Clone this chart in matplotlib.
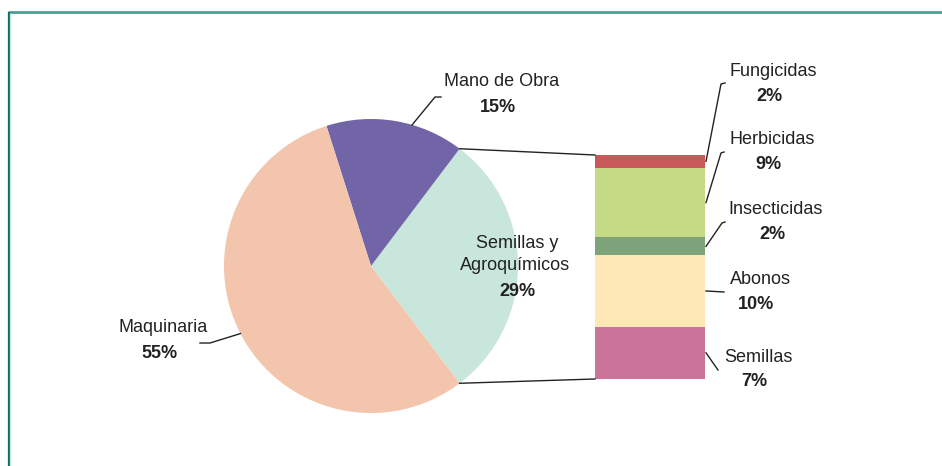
import matplotlib
matplotlib.use("Agg")
import matplotlib.pyplot as plt
import numpy as np

plt.rcParams['font.family'] = ['Liberation Sans', 'DejaVu Sans']

# pie data (percent of total cost)
pie_labels = ["Semillas y\nAgroquímicos", "Mano de Obra", "Maquinaria"]
pie_values = [29.4, 15.2, 55.4]
pie_colors = ["#C9E6DC", "#7165A8", "#F4C5AD"]

# breakdown of "Semillas y Agroquímicos" (top to bottom)
bar_labels = ["Fungicidas", "Herbicidas", "Insecticidas", "Abonos", "Semillas"]
bar_values = [1.7, 9.3, 2.4, 9.5, 7.0]
bar_colors = ["#C8585A", "#C6DA86", "#7EA37A", "#FDE8B6", "#CB7399"]

W, H = 942, 466
def Y(y):  # picture row -> axes y
    return H - y

fig = plt.figure(figsize=(W / 100, H / 100), dpi=100)
ax = fig.add_axes([0, 0, 1, 1])

txt = "#222222"
fs = 13

# ---- pie ----
cx, cy, r = 371, Y(266), 147
start = -360 * pie_values[0] / 100 / 2
wedges, _ = ax.pie(pie_values, colors=pie_colors, startangle=start,
                   counterclock=True, center=(cx, cy), radius=r, frame=True,
                   wedgeprops=dict(linewidth=0))

# ---- stacked bar ----
bar_x, bar_w = 650, 110
bar_bottom, bar_top = Y(379), Y(155)
scale = (bar_top - bar_bottom) / sum(bar_values)
heights = np.array(bar_values[::-1]) * scale
bottoms = bar_bottom + np.concatenate([[0], np.cumsum(heights)[:-1]])
ax.bar(bar_x, heights, bottom=bottoms, width=bar_w,
       color=bar_colors[::-1], linewidth=0)

# connector lines pie -> bar
a1 = np.deg2rad(start)
a2 = np.deg2rad(start + 360 * pie_values[0] / 100)
left = bar_x - bar_w / 2
ax.plot([cx + r * np.cos(a2), left], [cy + r * np.sin(a2), bar_top], color=txt, lw=1)
ax.plot([cx + r * np.cos(a1), left], [cy + r * np.sin(a1), bar_bottom], color=txt, lw=1)

def pct(v):
    return f"{int(np.floor(v + 0.5))}%"

# pie labels
ax.text(517, Y(243), "Semillas y", ha='center', va='center', fontsize=fs, color=txt)
ax.text(515, Y(266), "Agroquímicos", ha='center', va='center', fontsize=fs, color=txt)
ax.text(517, Y(292), pct(pie_values[0]), ha='center', va='center', fontsize=fs,
        color=txt, fontweight='bold')

ax.text(502, Y(82), pie_labels[1], ha='center', va='center', fontsize=fs, color=txt)
ax.text(498, Y(108), pct(pie_values[1]), ha='center', va='center', fontsize=fs,
        color=txt, fontweight='bold')
ax.plot([412, 435, 441], [Y(125), Y(97), Y(97)], color=txt, lw=1)

ax.text(163, Y(328), pie_labels[2], ha='center', va='center', fontsize=fs, color=txt)
ax.text(160, Y(353), pct(pie_values[2]), ha='center', va='center', fontsize=fs,
        color=txt, fontweight='bold')
mid = np.deg2rad(start + 360 * (pie_values[0] + pie_values[1] + pie_values[2] / 2) / 100)
ax.plot([cx + r * np.cos(mid), 210, 200], [cy + r * np.sin(mid), Y(343), Y(343)],
        color=txt, lw=1)

# bar labels
label_pos = [(773, 72), (772, 140), (776, 210), (760, 280), (758, 357)]
leader_end = [[(721, 84), (725, 83)], [(721, 153), (724, 152)],
              [(722, 223), (725, 222)], [(724, 292)], [(718, 370)]]
mids = (bottoms + heights / 2)[::-1]
right = bar_x + bar_w / 2
for name, v, (lx, ly), pts, my in zip(bar_labels, bar_values, label_pos,
                                      leader_end, mids):
    ax.text(lx, Y(ly), name, ha='center', va='center', fontsize=fs, color=txt)
    ax.text(lx - 4, Y(ly + 24.5), pct(v), ha='center', va='center', fontsize=fs,
            color=txt, fontweight='bold')
    xs = [right + 1] + [p[0] for p in pts]
    ys = [my] + [Y(p[1]) for p in pts]
    ax.plot(xs, ys, color=txt, lw=1)

# frame
ax.plot([8, W], [Y(12), Y(12)], color="#4F9E94", lw=2, solid_capstyle='butt')
ax.plot([8.5, 8.5], [Y(12), 0], color="#0E6E5E", lw=1.6, solid_capstyle='butt')
ax.plot([10.3, 10.3], [Y(13), 0], color="#BFE3DD", lw=1, solid_capstyle='butt')

ax.set_xlim(0, W)
ax.set_ylim(0, H)
ax.set_aspect('auto')
ax.axis('off')

fig.savefig("out.png", dpi=100)
